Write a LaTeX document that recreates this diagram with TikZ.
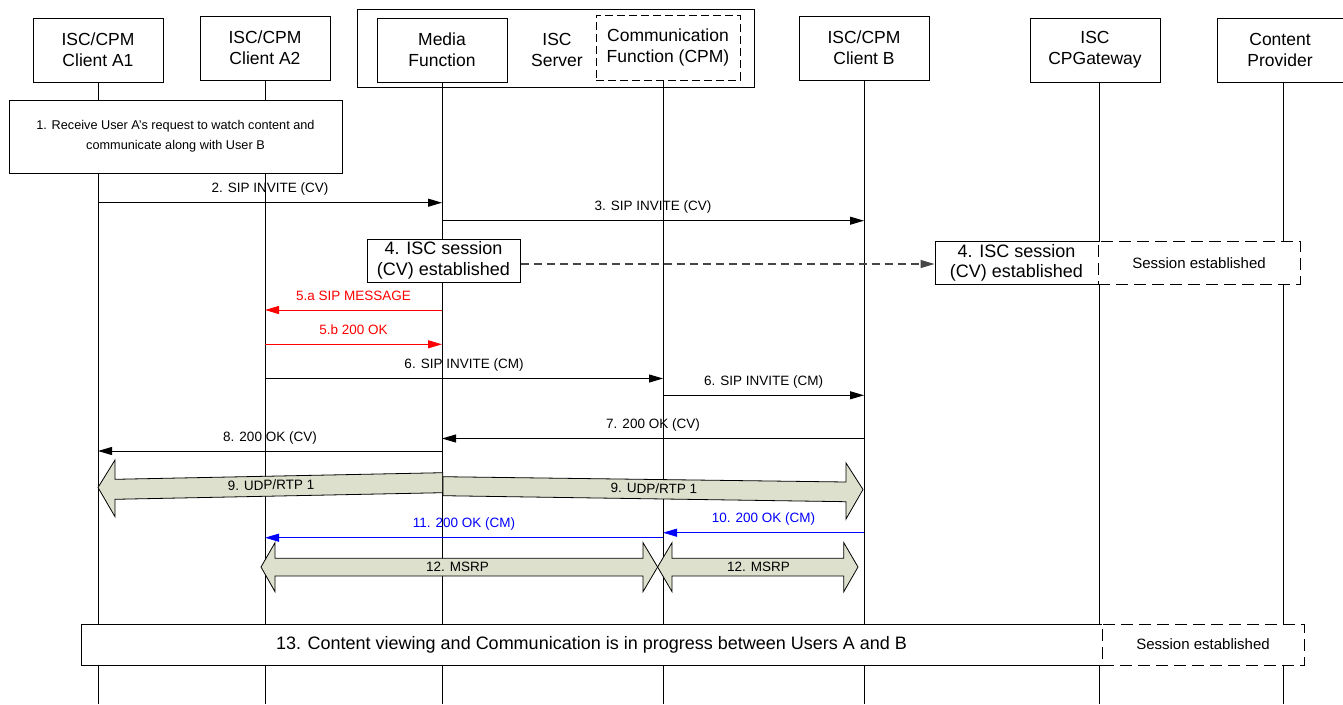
\documentclass[tikz,border=0pt]{standalone}
\usepackage{fontspec}
\setmainfont{Liberation Sans}
\usetikzlibrary{arrows.meta}
\definecolor{fatfill}{RGB}{221,224,204}
\definecolor{dgrey}{RGB}{70,70,70}
\begin{document}
\begin{tikzpicture}[x=1pt,y=-1pt,
  hdr/.style={draw, line width=1pt, fill=white, minimum width=130pt, minimum height=64pt, inner sep=0pt, align=center, font=\fontsize{17.5}{21}\selectfont},
  life/.style={line width=1pt},
  msg/.style={line width=1pt, -{Triangle[length=14pt,width=8pt]}},
  lbl/.style={anchor=base, yshift=10pt, inner sep=0pt, font=\fontsize{13.5}{16}\selectfont},
  fat/.style={draw, line width=0.8pt, fill=fatfill},
  fatlbl/.style={inner sep=0pt, font=\fontsize{13.5}{16}\selectfont},
  sess/.style={draw, line width=1pt, fill=white, inner sep=0pt, align=center, font=\fontsize{18}{20.5}\selectfont},
  sessd/.style={draw, line width=1pt, fill=white, inner sep=0pt, dash pattern=on 12pt off 6pt, font=\fontsize{15}{18}\selectfont},
]
\useasboundingbox (0,0) rectangle (1343,704);

% header boxes
\node[hdr] (A1) at (98,50) {ISC/CPM\\Client A1};
\node[hdr] (A2) at (265,48) {ISC/CPM\\Client A2};
\node[draw, line width=1pt, minimum width=397pt, minimum height=78pt, inner sep=0pt] (SRV) at (555.5,48) {};
\node[inner sep=0pt, align=center, font=\fontsize{17.5}{21}\selectfont] (SRVT) at (557,50) {ISC\\Server};
\node[hdr] (MF) at (442,50) {Media\\Function};
\node[hdr, dash pattern=on 8pt off 4pt, minimum width=144pt, minimum height=65pt] (CF) at (668,47.5) {Communication\\Function (CPM)};
\node[hdr] (B) at (864,48) {ISC/CPM\\Client B};
\node[hdr] (GW) at (1095,50) {ISC\\CPGateway};
\node[hdr, minimum width=126pt] (CP) at (1280,50) {Content\\Provider};

% lifeline coordinates
\coordinate (lA1) at (98,82);   \coordinate (eA1) at (98,704);
\coordinate (lA2) at (265,80);  \coordinate (eA2) at (265,704);
\coordinate (lMF) at (442,82);  \coordinate (eMF) at (442,704);
\coordinate (lCF) at (663,80);  \coordinate (eCF) at (663,704);
\coordinate (lB) at (864,80);   \coordinate (eB) at (864,704);
\coordinate (lGW) at (1099,82); \coordinate (eGW) at (1099,704);
\coordinate (lCP) at (1283,82); \coordinate (eCP) at (1283,704);

\foreach \s/\e in {lA1/eA1,lA2/eA2,lMF/eMF,lCF/eCF,lB/eB,lGW/eGW,lCP/eCP}
  \draw[life] (\s) -- (\e);

% step 1
\node[draw, line width=1pt, fill=white, minimum width=333pt, minimum height=73pt, inner sep=0pt, align=center, font=\fontsize{12.7}{20}\selectfont] (S1) at (175.5,136.5) {1. Receive User A’s request to watch content and\\communicate along with User B};

% messages
\draw[msg] (lA1 |- 0,202.7) -- node[lbl]{2. SIP INVITE (CV)} (lMF |- 0,202.7);
\draw[msg] (lMF |- 0,220.7) -- node[lbl]{3. SIP INVITE (CV)} (lB |- 0,220.7);

% step 4
\node[sess, minimum width=153pt, minimum height=43pt] (S4L) at (443.5,260.5) {4. ISC session\\(CV) established};
\node[sess, minimum width=163pt, minimum height=42.5pt] (S4R) at (1016.5,263) {4. ISC session\\(CV) established};
\node[sessd, minimum width=202pt, minimum height=42.5pt] (SE1) at (1199,263) {Session established};
\draw[line width=1.2pt, dgrey, dash pattern=on 8pt off 5pt, -{Triangle[length=14pt,width=8pt]}] (S4L.east |- 0,264) -- (S4R.west |- 0,264);

\draw[msg, red] (lMF |- 0,310) -- node[lbl]{5.a SIP MESSAGE} (lA2 |- 0,310);
\draw[msg, red] (lA2 |- 0,344.3) -- node[lbl]{5.b 200 OK} (lMF |- 0,344.3);
\draw[msg] (lA2 |- 0,378.5) -- node[lbl]{6. SIP INVITE (CM)} (lCF |- 0,378.5);
\draw[msg] (lCF |- 0,395.3) -- node[lbl]{6. SIP INVITE (CM)} (lB |- 0,395.3);
\draw[msg] (lB |- 0,438.5) -- node[lbl]{7. 200 OK (CV)} (lMF |- 0,438.5);
\draw[msg] (lMF |- 0,451) -- node[lbl]{8. 200 OK (CV)} (lA1 |- 0,451);

% 9 UDP/RTP fat arrows
\draw[fat] (98,487.5) -- (115,460) -- (115,479.3) -- (442.7,472.7) -- (442.7,492.7) -- (115,499.3) -- (115,516.7) -- cycle;
\node[fatlbl, rotate=1.15] (U1) at (271,485) {9. UDP/RTP 1};
\draw[fat] (443,476.7) -- (846,482) -- (846,463) -- (863,489.5) -- (846,519) -- (846,501.7) -- (443,495.7) -- cycle;
\node[fatlbl, rotate=-0.75] (U2) at (654,488.5) {9. UDP/RTP 1};

% 10, 11
\draw[msg, blue] (lB |- 0,532.7) -- node[lbl]{10. 200 OK (CM)} (lCF |- 0,532.7);
\draw[msg, blue] (lCF |- 0,537.7) -- node[lbl]{11. 200 OK (CM)} (lA2 |- 0,537.7);

% 12 MSRP
\draw[fat] (261,567) -- (275,542.7) -- (275,558.3) -- (643,558.3) -- (643,542.7) -- (657.6,567) -- (643,591.7) -- (643,576) -- (275,576) -- (275,591.7) -- cycle;
\node[fatlbl] (M1) at (457.5,567) {12. MSRP};
\draw[fat] (657.6,567) -- (672,542.7) -- (672,558.3) -- (843.8,558.3) -- (843.8,542.7) -- (858,567) -- (843.8,591.7) -- (843.8,576) -- (672,576) -- (672,591.7) -- cycle;
\node[fatlbl] (M2) at (758.5,567) {12. MSRP};

% 13
\node[sess, minimum width=1021pt, minimum height=41pt] (S13) at (591.5,644.5) {13. Content viewing and Communication is in progress between Users A and B};
\node[sessd, minimum width=202pt, minimum height=41pt] (SE2) at (1203,644.5) {Session established};
\end{tikzpicture}
\end{document}
